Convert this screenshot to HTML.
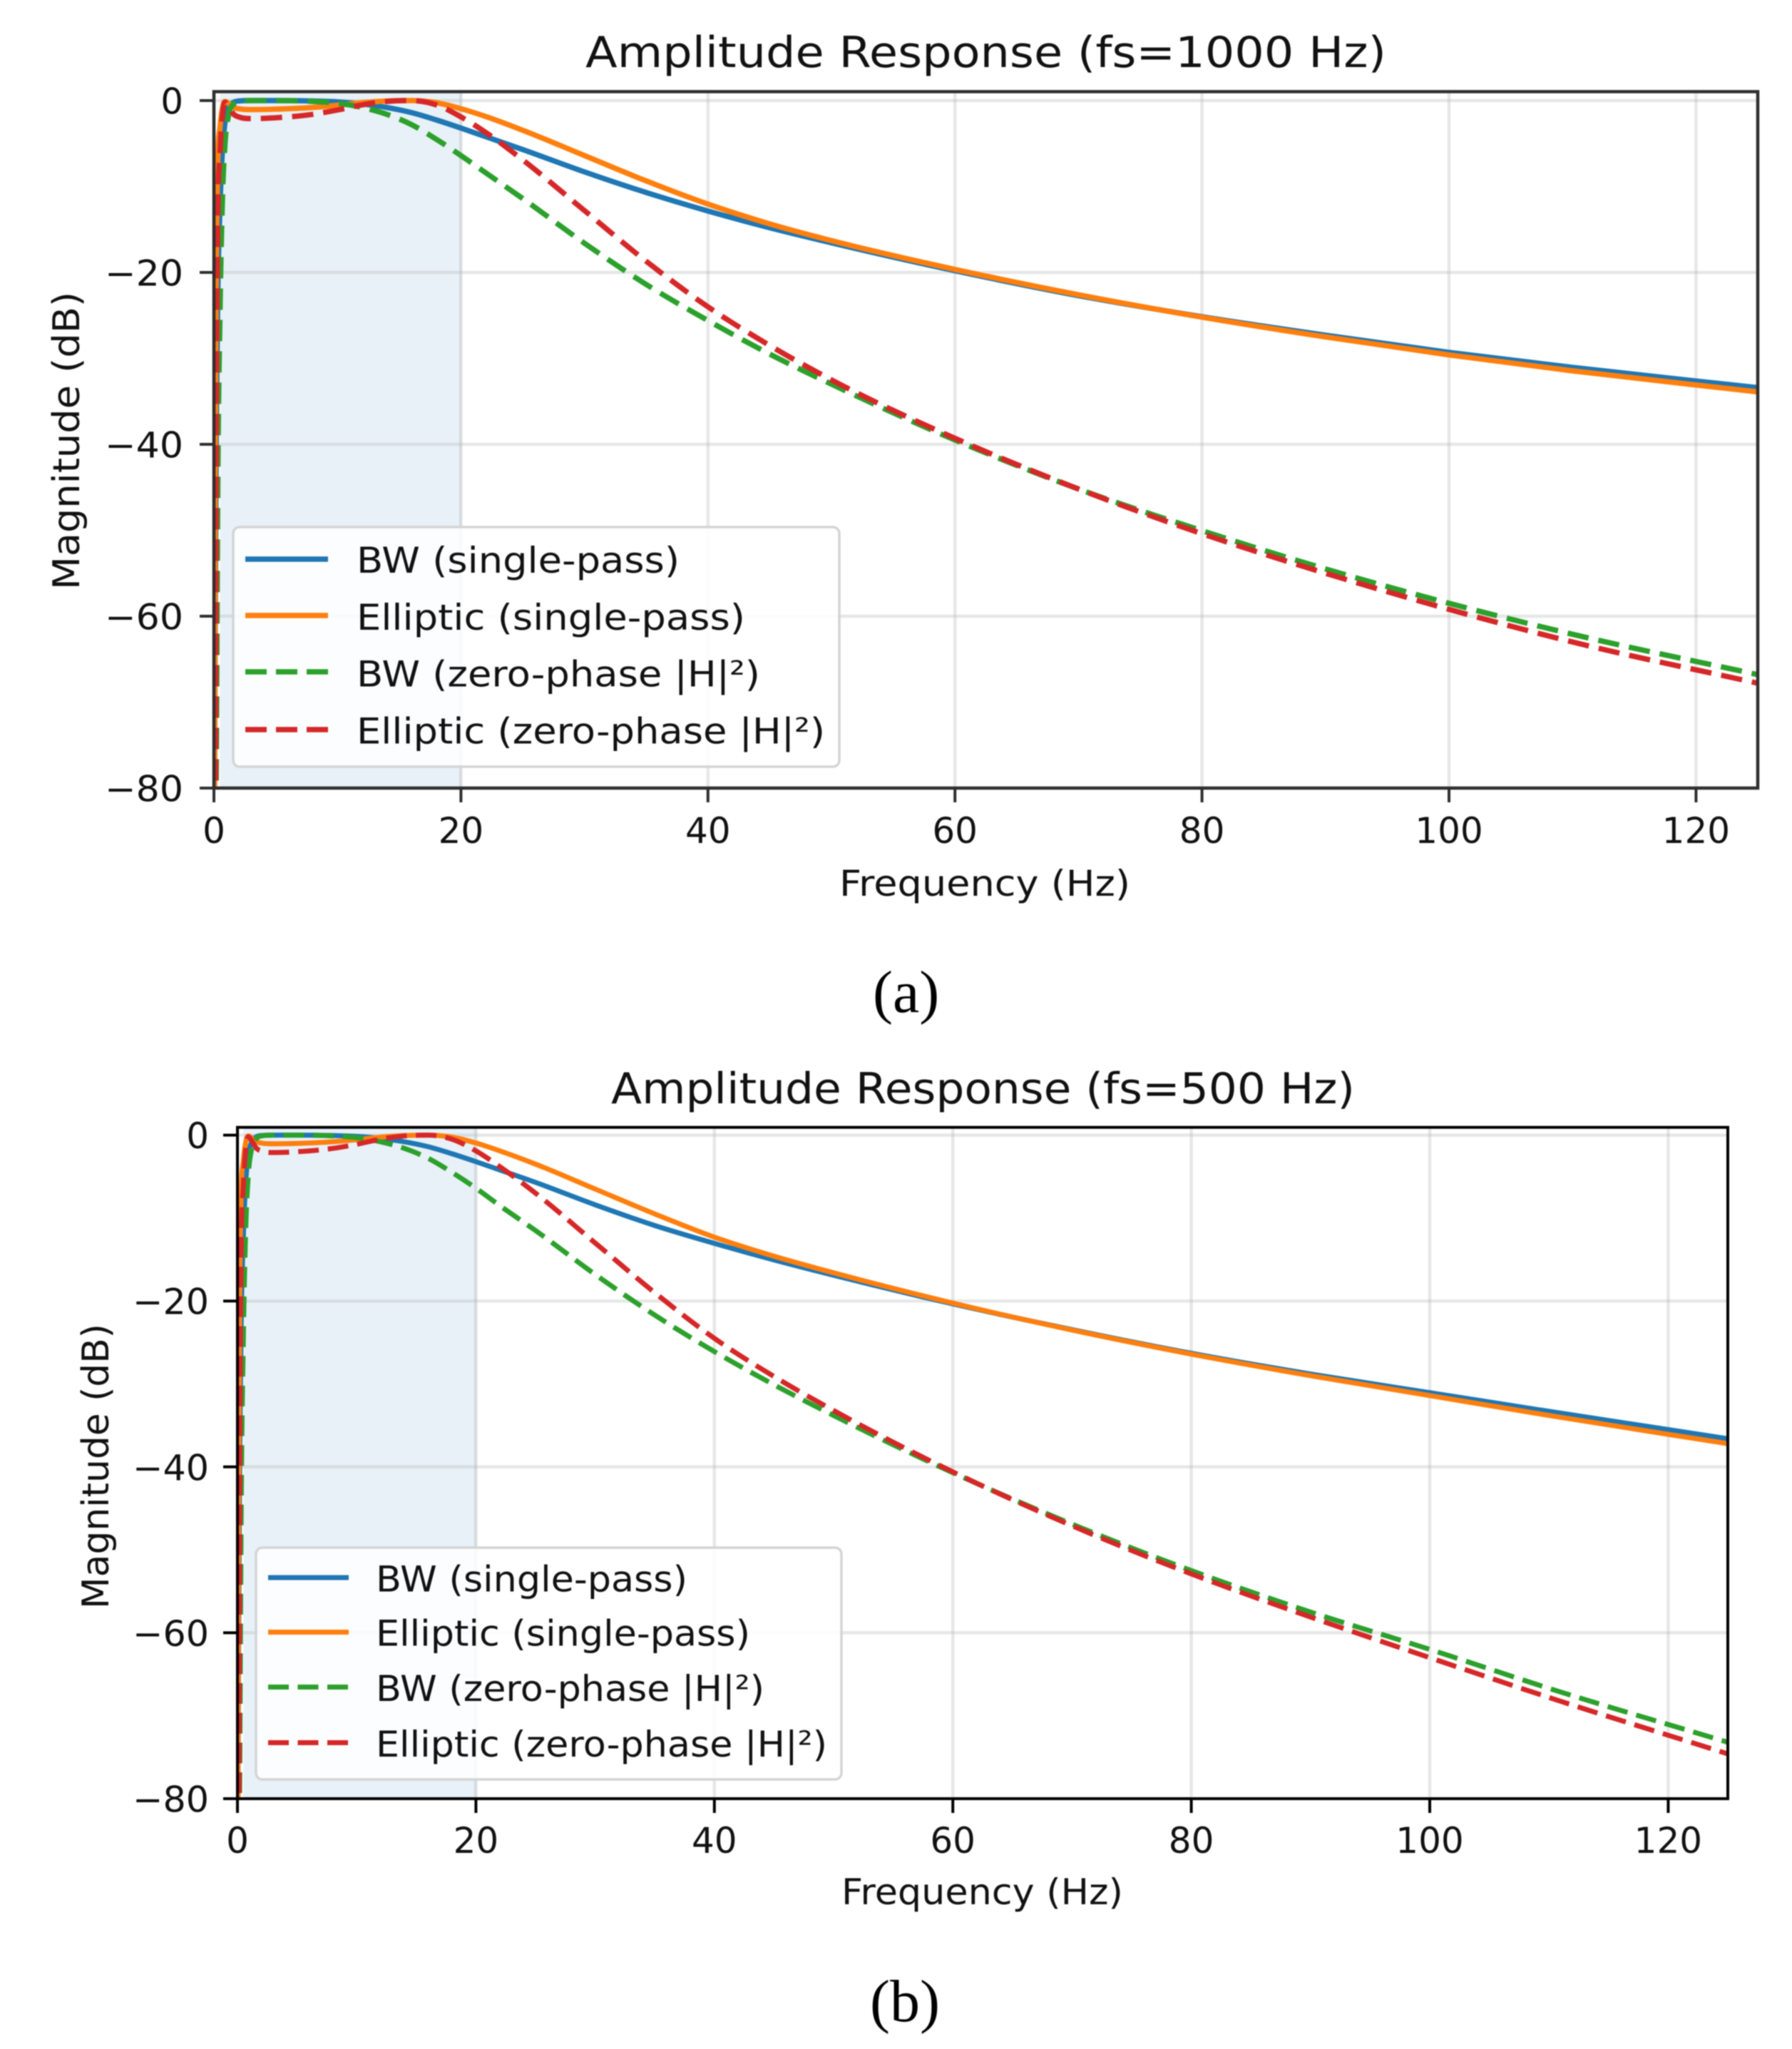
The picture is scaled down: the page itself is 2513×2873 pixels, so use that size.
<!DOCTYPE html>
<html lang="en">
<head>
<meta charset="utf-8">
<title>Amplitude Response</title>
<style>
  html, body { margin: 0; padding: 0; background: #fff; }
  svg { display: block; filter: blur(0.8px); }
  .mpl { font-family: "DejaVu Sans", "Liberation Sans", sans-serif; fill: #111; }
  .cap { font-family: "Liberation Serif", serif; fill: #000; font-size: 84px; }
</style>
</head>
<body>
<svg id="figure" xmlns="http://www.w3.org/2000/svg" width="2513" height="2873" viewBox="0 0 2513 2873">
  <rect x="0" y="0" width="2513" height="2873" fill="#ffffff"/>
  <defs>
    <clipPath id="clip-a"><rect x="300" y="128.5" width="2165" height="976.5"/></clipPath>
    <clipPath id="clip-b"><rect x="333" y="1580.7" width="2090" height="941"/></clipPath>
  </defs>

  <!-- Panel (a) -->
  <g id="panel-a">
    <g id="a-under"></g>
    <g id="a-marks" clip-path="url(#clip-a)"></g>
    <g>
      <rect x="327" y="739" width="850" height="336" rx="9" fill="#ffffff" fill-opacity="0.85" stroke="#d4d4d4" stroke-width="3.5"/>
      <line x1="344" x2="460" y1="784" y2="784" stroke="#1f77b4" stroke-width="7.5"/>
      <text class="mpl" x="500" y="803" font-size="50" textLength="453" lengthAdjust="spacingAndGlyphs">BW (single-pass)</text>
      <line x1="344" x2="460" y1="863" y2="863" stroke="#ff7f0e" stroke-width="7.5"/>
      <text class="mpl" x="500" y="883" font-size="50" textLength="545" lengthAdjust="spacingAndGlyphs">Elliptic (single-pass)</text>
      <line x1="344" x2="460" y1="942" y2="942" stroke="#2ca02c" stroke-width="7.5" stroke-dasharray="30 13"/>
      <text class="mpl" x="500" y="962.5" font-size="50" textLength="566" lengthAdjust="spacingAndGlyphs">BW (zero-phase |H|²)</text>
      <line x1="344" x2="460" y1="1023" y2="1023" stroke="#d62728" stroke-width="7.5" stroke-dasharray="30 13"/>
      <text class="mpl" x="500" y="1042.5" font-size="50" textLength="657" lengthAdjust="spacingAndGlyphs">Elliptic (zero-phase |H|²)</text>
    </g>
    <g id="a-over"></g>
    <text class="mpl" x="821" y="94" font-size="60" textLength="1123" lengthAdjust="spacingAndGlyphs">Amplitude Response (fs=1000 Hz)</text>
    <text class="mpl" x="1177" y="1256" font-size="50" textLength="408" lengthAdjust="spacingAndGlyphs">Frequency (Hz)</text>
    <text class="mpl" transform="translate(111 827) rotate(-90)" x="0" y="0" font-size="52" textLength="418" lengthAdjust="spacingAndGlyphs">Magnitude (dB)</text>
    <text class="cap" x="1224" y="1419">(a)</text>
  </g>

  <!-- Panel (b) -->
  <g id="panel-b">
    <g id="b-under"></g>
    <g id="b-marks" clip-path="url(#clip-b)"></g>
    <g>
      <rect x="359" y="2170" width="821" height="325" rx="9" fill="#ffffff" fill-opacity="0.85" stroke="#d4d4d4" stroke-width="3.5"/>
      <line x1="376" x2="489" y1="2212" y2="2212" stroke="#1f77b4" stroke-width="7"/>
      <text class="mpl" x="527" y="2231.5" font-size="50" textLength="437" lengthAdjust="spacingAndGlyphs">BW (single-pass)</text>
      <line x1="376" x2="489" y1="2288.5" y2="2288.5" stroke="#ff7f0e" stroke-width="7"/>
      <text class="mpl" x="527" y="2307.5" font-size="50" textLength="525" lengthAdjust="spacingAndGlyphs">Elliptic (single-pass)</text>
      <line x1="376" x2="489" y1="2365.5" y2="2365.5" stroke="#2ca02c" stroke-width="7" stroke-dasharray="29 12.5"/>
      <text class="mpl" x="527" y="2385" font-size="50" textLength="545" lengthAdjust="spacingAndGlyphs">BW (zero-phase |H|²)</text>
      <line x1="376" x2="489" y1="2443.5" y2="2443.5" stroke="#d62728" stroke-width="7" stroke-dasharray="29 12.5"/>
      <text class="mpl" x="527" y="2463" font-size="50" textLength="633" lengthAdjust="spacingAndGlyphs">Elliptic (zero-phase |H|²)</text>
    </g>
    <g id="b-over"></g>
    <text class="mpl" x="857" y="1547" font-size="60" textLength="1043" lengthAdjust="spacingAndGlyphs">Amplitude Response (fs=500 Hz)</text>
    <text class="mpl" x="1180" y="2670" font-size="50" textLength="395" lengthAdjust="spacingAndGlyphs">Frequency (Hz)</text>
    <text class="mpl" transform="translate(152 2256) rotate(-90)" x="0" y="0" font-size="52" textLength="400" lengthAdjust="spacingAndGlyphs">Magnitude (dB)</text>
    <text class="cap" x="1220" y="2834">(b)</text>
  </g>
</svg>

<script>
// ---- chart data ----
const xTickValues = [0, 20, 40, 60, 80, 100, 120];
const yTickValues = [0, -20, -40, -60, -80];
const freqHz = [0.05,0.1,0.2,0.3,0.5,0.7,0.9,1.2,1.6,2,3,5,8,10,12,14,16,18,20,22,25,30,35,40,45,50,60,70,80,90,100,110,125];

const bwSingleA  = [-80,-62,-38,-24,-12,-5.5,-2.5,-0.8,-0.2,-0.05,0,0,-0.05,-0.15,-0.4,-0.8,-1.4,-2.25,-3.2,-4.2,-5.7,-8.3,-10.7,-12.85,-14.8,-16.55,-19.8,-22.7,-25.15,-27.3,-29.3,-31.05,-33.4];
const ellSingleA = [-80,-46,-18,-8,-3,-0.8,-0.1,-0.35,-0.8,-0.95,-1.05,-1,-0.8,-0.55,-0.25,-0.05,0,-0.25,-0.95,-1.85,-3.45,-6.4,-9.35,-12.05,-14.35,-16.3,-19.65,-22.6,-25.2,-27.5,-29.6,-31.45,-33.9];
const bwZeroA    = [-90,-90,-76,-48,-24,-11,-5,-1.6,-0.4,-0.1,0,0,-0.1,-0.3,-0.8,-1.6,-2.8,-4.5,-6.4,-8.4,-11.4,-16.6,-21.4,-25.6,-29.5,-33,-39.5,-45.2,-50.05,-54.5,-58.5,-62.1,-66.8];
const ellZeroA   = [-90,-90,-36,-16,-6,-1.6,-0.2,-0.7,-1.6,-1.9,-2.1,-2,-1.6,-1.1,-0.5,-0.1,0,-0.5,-1.9,-3.7,-6.9,-12.8,-18.7,-24,-28.5,-32.5,-39.3,-45.2,-50.4,-55,-59.2,-63,-67.8];

const bwSingleB  = [-80,-62,-38,-24,-12,-5.5,-2.5,-0.8,-0.2,-0.05,0,0,-0.05,-0.15,-0.4,-0.8,-1.4,-2.25,-3.2,-4.2,-5.7,-8.4,-10.9,-13.05,-15.05,-16.9,-20.35,-23.45,-26.3,-28.8,-31.05,-33.3,-36.6];
const ellSingleB = [-80,-46,-18,-8,-3,-0.8,-0.1,-0.35,-0.8,-0.95,-1.05,-1,-0.8,-0.55,-0.25,-0.05,0,-0.25,-0.95,-1.9,-3.5,-6.5,-9.5,-12.3,-14.6,-16.6,-20.25,-23.5,-26.4,-29,-31.4,-33.8,-37.2];
const bwZeroB    = [-90,-90,-76,-48,-24,-11,-5,-1.6,-0.4,-0.1,0,0,-0.1,-0.3,-0.8,-1.6,-2.8,-4.5,-6.4,-8.5,-11.5,-16.8,-21.7,-26.1,-30.1,-33.8,-40.7,-46.9,-52.5,-57.5,-62,-66.7,-73.2];
const ellZeroB   = [-90,-90,-36,-16,-6,-1.6,-0.2,-0.7,-1.6,-1.9,-2.1,-2,-1.6,-1.1,-0.5,-0.1,0,-0.5,-1.9,-3.8,-7,-13,-19,-24.5,-29.1,-33.2,-40.6,-47.1,-52.9,-58.1,-63,-67.8,-74.6];

const SVGNS = 'http://www.w3.org/2000/svg';
function make(tag, parent, props) {
  const el = document.createElementNS(SVGNS, tag);
  for (const k in props) el.setAttribute(k, props[k]);
  parent.appendChild(el);
  return el;
}

// Cubic through the knots in pixel space, with limited three-point tangents.
function curvePath(xs, ys, fx, fy) {
  const px = xs.map(fx), py = ys.map(fy), n = px.length;
  const d = [], m = new Array(n);
  for (let i = 0; i < n - 1; i++) d[i] = (py[i + 1] - py[i]) / (px[i + 1] - px[i]);
  m[0] = d[0]; m[n - 1] = d[n - 2];
  for (let i = 1; i < n - 1; i++) {
    if (d[i - 1] * d[i] <= 0) { m[i] = 0; continue; }
    const h0 = px[i] - px[i - 1], h1 = px[i + 1] - px[i];
    const t = (h1 * d[i - 1] + h0 * d[i]) / (h0 + h1);
    const lim = 3 * Math.min(Math.abs(d[i - 1]), Math.abs(d[i]));
    m[i] = Math.sign(t) * Math.min(Math.abs(t), lim);
  }
  let s = 'M' + px[0].toFixed(2) + ' ' + py[0].toFixed(2);
  for (let i = 0; i < n - 1; i++) {
    const h = (px[i + 1] - px[i]) / 3;
    s += 'C' + (px[i] + h).toFixed(2) + ' ' + (py[i] + m[i] * h).toFixed(2) + ' '
       + (px[i + 1] - h).toFixed(2) + ' ' + (py[i + 1] - m[i + 1] * h).toFixed(2) + ' '
       + px[i + 1].toFixed(2) + ' ' + py[i + 1].toFixed(2);
  }
  return s;
}

function drawPanel(p) {
  const under = document.getElementById(p.id + '-under');
  const marks = document.getElementById(p.id + '-marks');
  const over = document.getElementById(p.id + '-over');
  const fx = f => p.x0 + p.pxPerHz * f;
  const fy = v => p.y0 - p.pxPerDb * v;
  const left = fx(0), right = fx(125), top = p.top, bottom = fy(-80);

  const band = make('rect', under, { x: fx(0.5), y: top, width: fx(20) - fx(0.5), height: bottom - top, fill: '#1f77b4', 'fill-opacity': 0.1 });
  
  
  const bandEdge = make('line', under, { x1: fx(20), x2: fx(20), y1: top, y2: bottom, stroke: '#1f77b4', 'stroke-opacity': 0.06, 'stroke-width': 4 });
  
  

  xTickValues.forEach(v => {
    const g = make('line', under, { x1: fx(v), x2: fx(v), y1: top, y2: bottom, stroke: '#b0b0b0', 'stroke-opacity': 0.3, 'stroke-width': 4.5 });
    
    
    const t = make('line', over, { x1: fx(v), x2: fx(v), y1: bottom, y2: bottom + p.tick, stroke: p.spine, 'stroke-width': 4 });
    
    
    const l = make('text', over, { x: fx(v), y: bottom + p.xLabelDy, 'text-anchor': 'middle', 'font-size': 50, class: 'mpl' });
    
    
    l.textContent = String(v);
  });

  yTickValues.forEach(v => {
    const g = make('line', under, { x1: left, x2: right, y1: fy(v), y2: fy(v), stroke: '#b0b0b0', 'stroke-opacity': 0.3, 'stroke-width': 4.5 });
    
    
    const t = make('line', over, { x1: left - p.tick, x2: left, y1: fy(v), y2: fy(v), stroke: p.spine, 'stroke-width': 4 });
    
    
    const l = make('text', over, { x: p.yLabelRight, y: fy(v) + 18.5, 'text-anchor': 'end', 'font-size': 50, class: 'mpl' });
    if (v < 0) { l.setAttribute('textLength', p.negLabelWidth); l.setAttribute('lengthAdjust', 'spacingAndGlyphs'); }
    
    
    l.textContent = (v < 0 ? '\u2212' : '') + Math.abs(v);
  });

  const styles = [
    { vals: p.series[0], color: '#1f77b4', dash: null, name: 'series-bw-single-pass' },
    { vals: p.series[1], color: '#ff7f0e', dash: null, name: 'series-elliptic-single-pass' },
    { vals: p.series[2], color: '#2ca02c', dash: p.dash, name: 'series-bw-zero-phase' },
    { vals: p.series[3], color: '#d62728', dash: p.dash, name: 'series-elliptic-zero-phase' }
  ];
  styles.forEach(s => {
    const path = make('path', marks, { d: curvePath(freqHz, s.vals, fx, fy), fill: 'none', stroke: s.color, 'stroke-width': p.lw, 'stroke-linejoin': 'round' });
    if (s.dash) path.setAttribute('stroke-dasharray', s.dash);
    
    
  });

  const frame = make('rect', over, { x: left, y: top, width: right - left, height: bottom - top, fill: 'none', stroke: p.spine, 'stroke-width': p.spineW });
  
  
}

drawPanel({ id: 'a', x0: 300, pxPerHz: 17.32, y0: 141, pxPerDb: 12.05, top: 128.5, tick: 20, xLabelDy: 77, yLabelRight: 257, negLabelWidth: 110, lw: 7.5, dash: '30 14', spine: '#2e2e2e', spineW: 4.5,
  series: [bwSingleA, ellSingleA, bwZeroA, ellZeroA] });
drawPanel({ id: 'b', x0: 333, pxPerHz: 16.72, y0: 1591.6, pxPerDb: 11.63, top: 1580.7, tick: 20, xLabelDy: 76, yLabelRight: 293, negLabelWidth: 107, lw: 7, dash: '29 12.7', spine: '#000000', spineW: 4,
  series: [bwSingleB, ellSingleB, bwZeroB, ellZeroB] });
</script>
</body>
</html>
